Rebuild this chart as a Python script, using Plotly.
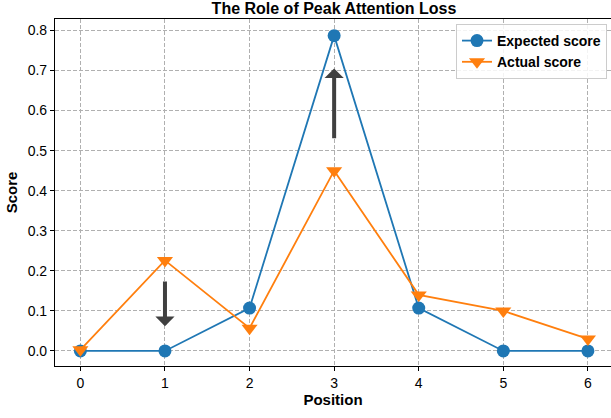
import plotly.graph_objects as go

positions = [0, 1, 2, 3, 4, 5, 6]
expected_score = [0.0, 0.0, 0.107, 0.787, 0.107, 0.0, 0.0]
actual_score = [0.003, 0.226, 0.057, 0.45, 0.14, 0.10, 0.03]
y_ticks = [0.0, 0.1, 0.2, 0.3, 0.4, 0.5, 0.6, 0.7, 0.8]
# arrows: (x, tail_y, tip_y)
arrow_x = [1, 3]
arrow_tail = [0.177, 0.527]
arrow_tip = [0.062, 0.705]

FONT = "Liberation Sans, Arial, sans-serif"

fig = go.Figure()
fig.add_trace(go.Scatter(
    x=positions, y=expected_score, mode="lines+markers", name="<b>Expected score</b>",
    line=dict(color="#1f77b4", width=1.8),
    marker=dict(symbol="circle", size=13, color="#1f77b4"),
))
fig.add_trace(go.Scatter(
    x=positions, y=actual_score, mode="lines+markers", name="<b>Actual score</b>",
    line=dict(color="#ff7f0e", width=1.8),
    marker=dict(symbol="triangle-down", size=14, color="#ff7f0e"),
))

for xa, yt, yh in zip(arrow_x, arrow_tail, arrow_tip):
    fig.add_annotation(
        x=xa, y=yh, ax=xa, ay=yt, xref="x", yref="y", axref="x", ayref="y",
        showarrow=True, arrowhead=1, arrowsize=0.8, arrowwidth=4,
        arrowcolor="#404040", text="",
    )

fig.update_layout(
    width=611, height=418,
    margin=dict(l=55, r=0, t=19, b=52),
    paper_bgcolor="white", plot_bgcolor="white",
    font=dict(family=FONT, size=14, color="black"),
    title=dict(text="<b>The Role of Peak Attention Loss</b>", x=334 / 611, xanchor="center",
               y=1 - 8 / 418, yanchor="middle", font=dict(size=16, color="black")),
    showlegend=True,
    legend=dict(x=(607 - 55) / 556, y=(366 - 24) / 347, xref="paper", yref="paper",
                xanchor="right", yanchor="top", itemwidth=30,
                bgcolor="rgba(255,255,255,0.85)", bordercolor="#cccccc", borderwidth=1,
                font=dict(size=14, color="black"), tracegroupgap=0),
)
fig.update_xaxes(
    range=[-0.3, 6.273], tickmode="array", tickvals=positions,
    ticktext=[str(p) for p in positions],
    showgrid=True, gridcolor="#b0b0b0", griddash="4px,2px", gridwidth=1,
    showline=True, linecolor="black", linewidth=1.2, mirror=True,
    ticks="outside", ticklen=4, tickcolor="black", zeroline=False,
    title=dict(text="<b>Position</b>", font=dict(size=15), standoff=4),
)
fig.update_yaxes(
    range=[-0.0375, 0.8285], tickmode="array", tickvals=y_ticks,
    ticktext=[f"{v:.1f}" for v in y_ticks],
    showgrid=True, gridcolor="#b0b0b0", griddash="4px,2px", gridwidth=1,
    showline=True, linecolor="black", linewidth=1.2, mirror=True,
    ticks="outside", ticklen=4, tickcolor="black", zeroline=False,
    title=dict(text="<b>Score</b>", font=dict(size=15), standoff=6),
)

fig.write_html(
    "out.html",
    config={"displayModeBar": False},
    post_script="document.body.style.margin='0';document.body.style.overflow='hidden';",
)
